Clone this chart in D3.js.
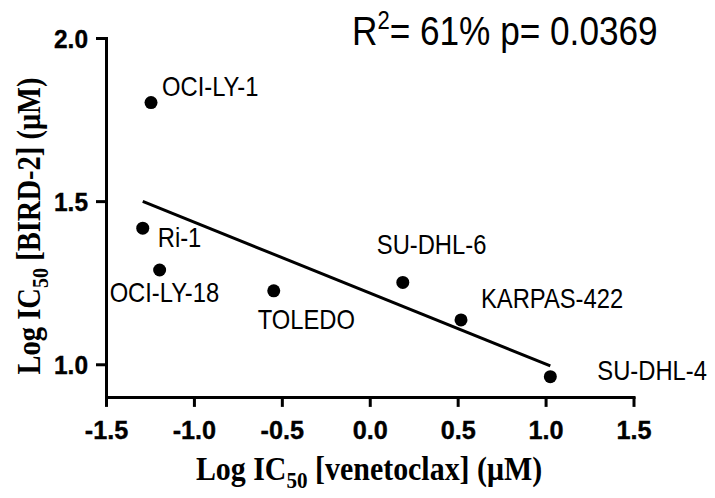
<!DOCTYPE html>
<html>
<head>
<meta charset="utf-8">
<script src="https://cdn.jsdelivr.net/npm/d3@7"></script>
<style>
  html, body { margin: 0; padding: 0; background: #fff; }
  svg { display: block; }
</style>
</head>
<body>
<svg id="chart" width="715" height="498"></svg>
<script>
// ---- data ----
const cellLines = ["OCI-LY-1", "Ri-1", "OCI-LY-18", "TOLEDO", "SU-DHL-6", "KARPAS-422", "SU-DHL-4"];
const logIC50Venetoclax = [-1.244, -1.291, -1.195, -0.546, 0.188, 0.519, 1.027];
const logIC50Bird2 = [1.802, 1.417, 1.289, 1.225, 1.251, 1.136, 0.962];
const xTicks = [-1.5, -1.0, -0.5, 0.0, 0.5, 1.0, 1.5];
const yTicks = [1.0, 1.5, 2.0];
const statsText = { r2: "61%", p: "0.0369" };

// ---- layout ----
const svg = d3.select("#chart");
const x = d3.scaleLinear().domain([-1.5, 1.5]).range([106, 633.5]);
const y = d3.scaleLinear().domain([0.9, 2.0]).range([396.9, 38]);
const SX = 0.88; // horizontal condensing of the text in the reference

// label offsets (pixels) relative to each point
const labelOffsets = {
  "OCI-LY-1": [11, -7],
  "Ri-1": [15, 19],
  "OCI-LY-18": [-50, 32],
  "TOLEDO": [-16, 38],
  "SU-DHL-6": [-26, -28],
  "KARPAS-422": [20, -12],
  "SU-DHL-4": [47, 3]
};

// ---- axes ----
const xAxis = svg.append("g")
  .attr("transform", `translate(0,${y.range()[0]})`)
  .call(d3.axisBottom(x).tickValues(xTicks).tickSize(10).tickSizeOuter(0));
const yAxis = svg.append("g")
  .attr("transform", `translate(${x.range()[0]},0)`)
  .call(d3.axisLeft(y).tickValues(yTicks).tickSize(10).tickSizeOuter(0));

[xAxis, yAxis].forEach(g => {
  g.attr("font-size", null).attr("font-family", null);
  g.select(".domain").attr("stroke", "#000").attr("stroke-width", 3).attr("stroke-linecap", "square");
  g.selectAll(".tick line").attr("stroke", "#000").attr("stroke-width", 3);
  g.selectAll(".tick text").remove();
});
xAxis.selectAll(".tick").append("text")
  .attr("text-anchor", "middle")
  .attr("transform", `translate(0,42) scale(0.97,1)`)
  .attr("fill", "#000")
  .attr("stroke", "#000").attr("stroke-width", 0.4)
  .style("font-family", "'Liberation Sans', Arial, sans-serif")
  .style("font-weight", "700")
  .style("font-size", "26px")
  .text(d => d3.format(".1f")(d).replace("\u2212", "-"));
yAxis.selectAll(".tick").append("text")
  .attr("text-anchor", "end")
  .attr("transform", `translate(-18,9) scale(0.94,1)`)
  .attr("fill", "#000")
  .attr("stroke", "#000").attr("stroke-width", 0.4)
  .style("font-family", "'Liberation Sans', Arial, sans-serif")
  .style("font-weight", "700")
  .style("font-size", "26px")
  .text(d => d3.format(".1f")(d));

// ---- regression line ----
const n = logIC50Venetoclax.length;
const mx = d3.mean(logIC50Venetoclax), my = d3.mean(logIC50Bird2);
let sxy = 0, sxx = 0;
for (let i = 0; i < n; i++) {
  sxy += (logIC50Venetoclax[i] - mx) * (logIC50Bird2[i] - my);
  sxx += (logIC50Venetoclax[i] - mx) ** 2;
}
const slope = sxy / sxx, intercept = my - slope * mx;
const [xmin, xmax] = d3.extent(logIC50Venetoclax);
svg.append("line")
  .attr("x1", x(xmin)).attr("y1", y(intercept + slope * xmin))
  .attr("x2", x(xmax)).attr("y2", y(intercept + slope * xmax))
  .attr("stroke", "#000").attr("stroke-width", 3);

// ---- points ----
const pts = cellLines.map((c, i) => ({ name: c, vx: logIC50Venetoclax[i], vy: logIC50Bird2[i] }));
svg.append("g").selectAll("circle").data(pts).join("circle")
  .attr("cx", d => x(d.vx)).attr("cy", d => y(d.vy)).attr("r", 6.5).attr("fill", "#000");

svg.append("g").selectAll("text").data(pts).join("text")
  .attr("transform", d => `translate(${x(d.vx) + labelOffsets[d.name][0]},${y(d.vy) + labelOffsets[d.name][1]}) scale(${SX},1)`)
  .style("font-family", "'Liberation Sans', Arial, sans-serif")
  .style("font-size", "27px")
  .attr("fill", "#000")
  .text(d => d.name);

// ---- stats text ----
const st = svg.append("text")
  .attr("transform", `translate(352,45) scale(${SX},1)`)
  .style("font-family", "'Liberation Sans', Arial, sans-serif")
  .style("font-size", "40px")
  .attr("fill", "#000");
st.append("tspan").text("R");
st.append("tspan").style("font-size", "25px").attr("dy", -16).text("2");
st.append("tspan").attr("dy", 16).text(`= ${statsText.r2} p= ${statsText.p}`);

// ---- axis titles ----
function title(g, parts) {
  const t = g.append("text")
    .style("font-family", "'Liberation Serif', 'Times New Roman', serif")
    .style("font-weight", "bold")
    .style("font-size", "34px")
    .attr("text-anchor", "middle")
    .attr("fill", "#000");
  t.append("tspan").text(parts[0]);
  t.append("tspan").style("font-size", "24px").attr("dy", 8).text(parts[1]);
  t.append("tspan").attr("dy", -8).text(parts[2]);
  return t;
}
title(svg.append("g").attr("transform", `translate(369,480) scale(${SX},1)`),
  ["Log IC", "50", " [venetoclax] (\u03bcM)"]);
title(svg.append("g").attr("transform", `translate(40,226) rotate(-90) scale(0.84,1)`),
  ["Log IC", "50", " [BIRD-2] (\u03bcM)"]);
</script>
</body>
</html>
